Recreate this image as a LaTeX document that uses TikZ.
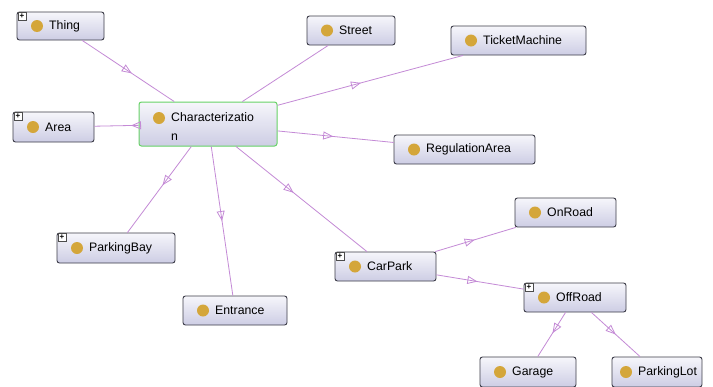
\documentclass[tikz,border=0pt]{standalone}
\usepackage{fontspec}
\setmainfont{Liberation Sans}
\usetikzlibrary{arrows.meta,decorations.markings}
\definecolor{edgec}{HTML}{C48AD6}
\definecolor{gold}{HTML}{D4A63A}
\definecolor{boxtop}{HTML}{F6F6FB}
\definecolor{boxbot}{HTML}{CDCDE4}
\definecolor{boxline}{HTML}{3C3C48}
\definecolor{greenb}{HTML}{66D266}
\tikzset{
 clsbox/.style={draw=boxline, line width=0.9pt, rounded corners=2.5pt, top color=boxtop, bottom color=boxbot, inner sep=0pt},
 lbl/.style={anchor=west, inner sep=0pt, font=\fontsize{12.3}{19}\selectfont},
 edge/.style={draw=edgec, line width=0.8pt},
 mid/.style={postaction={decorate}, decoration={markings, mark=at position #1 with {\arrow[edgec, line width=0.8pt]{Triangle[open, length=10pt, width=8pt]}}}},
 plusbox/.style={draw=gray!60!black, fill=white, line width=0.5pt, minimum size=8pt, inner sep=0pt, font=\bfseries\fontsize{8}{8}\selectfont},
}
% optional #1: circle offset, #8 text offset handled by defaults
\newcommand\cls[7][20]{%
 \pgfmathsetmacro\cx{(#3+#5)/2}%
 \pgfmathsetmacro\cy{(#4+#6)/2}%
 \pgfmathsetmacro\bw{#5-#3}%
 \pgfmathsetmacro\bh{#6-#4}%
 \node[clsbox,minimum width=\bw pt,minimum height=\bh pt] (#2) at (\cx,\cy) {};
 \fill[gold] ({#3+#1},\cy) circle (6pt);
 \node[lbl] (#2-t) at ({#3+#1+12},\cy) {#7};
}
\newcommand\plusmark[3]{\node[plusbox] (#1-p) at ({#2+5},{#3+4}) {+};}
\begin{document}
\begin{tikzpicture}[x=1pt,y=-1pt]
\fill[white] (0,0) rectangle (713,386);
\useasboundingbox (0,0) rectangle (713,386);
% nodes
\cls{Thing}{17}{12}{104}{40}{Thing}
\cls{Area}{13}{112}{94}{142}{Area}
\node[clsbox,draw=greenb,line width=1pt,minimum width=138pt,minimum height=44pt] (Char) at (208,124) {};
\fill[gold] (159,118) circle (6pt);
\node[lbl,anchor=north west,align=left] (Char-t) at (171,112) {Characterizatio\\n};
\cls{Street}{307}{16}{395}{45}{Street}
\cls{Ticket}{451}{26}{586}{55}{TicketMachine}
\cls{Reg}{394}{135}{535}{164}{RegulationArea}
\cls{Bay}{57}{233}{175}{263}{ParkingBay}
\cls{Entrance}{183}{296}{287}{325}{Entrance}
\cls{CarPark}{335}{252}{436}{281}{CarPark}
\cls{OnRoad}{515}{198}{616}{227}{OnRoad}
\cls{OffRoad}{524}{283}{626}{312}{OffRoad}
\cls{Garage}{480}{357}{576}{387}{Garage}
\cls[14]{Lot}{612}{357}{702}{387}{ParkingLot}
% edges
\draw[edge,mid=0.54] (Thing) -- (Char);
\draw[edge,mid=0.17] (Char) -- (Area);
\draw[edge] (Char) -- (Street);
\draw[edge,mid=0.45] (Char) -- (Ticket);
\draw[edge,mid=0.48] (Char) -- (Reg);
\draw[edge,mid=0.45] (Char) -- (Bay);
\draw[edge,mid=0.5] (Char) -- (Entrance);
\draw[edge,mid=0.44] (Char) -- (CarPark);
\draw[edge,mid=0.49] (CarPark) -- (OnRoad);
\draw[edge,mid=0.47] (CarPark) -- (OffRoad);
\draw[edge,mid=0.47] (OffRoad) -- (Garage);
\draw[edge,mid=0.5] (OffRoad) -- (Lot);
% plus marks
\plusmark{Thing}{17}{12}
\plusmark{Area}{13}{112}
\plusmark{Bay}{57}{233}
\plusmark{CarPark}{335}{252}
\plusmark{OffRoad}{524}{283}
\end{tikzpicture}
\end{document}
